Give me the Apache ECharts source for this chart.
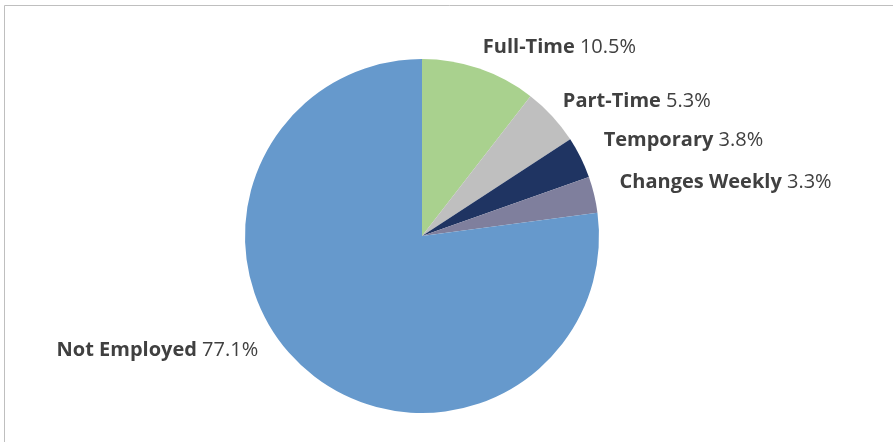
<!DOCTYPE html>
<html>
<head>
<meta charset="utf-8">
<script src="https://cdn.jsdelivr.net/npm/echarts@6/dist/echarts.min.js"></script>
<style>
html,body{margin:0;padding:0;background:#fff;}
#chart{width:893px;height:442px;}
</style>
</head>
<body>
<div id="chart"></div>
<script>
const categories = ['Full-Time', 'Part-Time', 'Temporary', 'Changes Weekly', 'Not Employed'];
const values = [10.5, 5.3, 3.8, 3.3, 77.1];
const colors = ['#a9d18e', '#bfbfbf', '#1f3462', '#7f7f9d', '#6699cc'];
// label nudges (style only)
const labelShift = [[-8, -2], [-9, -1], [0, -8], [1, -8], [-29, -34]];

const chart = echarts.init(document.getElementById('chart'), null, {renderer: 'canvas'});
chart.setOption({
  animation: false,
  backgroundColor: '#ffffff',
  graphic: [{
    type: 'rect',
    shape: {x: 4.5, y: 5.5, width: 950, height: 500},
    style: {fill: 'none', stroke: '#bfbfbf', lineWidth: 1},
    silent: true
  }],
  series: [{
    type: 'pie',
    center: [422, 236],
    radius: 177,
    startAngle: 90,
    clockwise: true,
    avoidLabelOverlap: false,
    data: categories.map((c, i) => ({name: c, value: values[i], itemStyle: {color: colors[i]}})),
    itemStyle: {borderWidth: 0},
    label: {
      show: true,
      position: 'outside',
      distanceToLabelLine: 5,
      formatter: '{b|{b} }{c|{c}%}',
      rich: {
        b: {fontFamily: 'Open Sans', fontWeight: 'bold', fontSize: 20, color: '#404040'},
        c: {fontFamily: 'Open Sans', fontWeight: 'normal', fontSize: 20, color: '#404040'}
      }
    },
    labelLine: {show: false, length: 20, length2: 0},
    labelLayout: function (p) {
      const s = labelShift[p.dataIndex];
      return {dx: s[0], dy: s[1]};
    },
    emphasis: {disabled: true}
  }]
});
</script>
</body>
</html>
